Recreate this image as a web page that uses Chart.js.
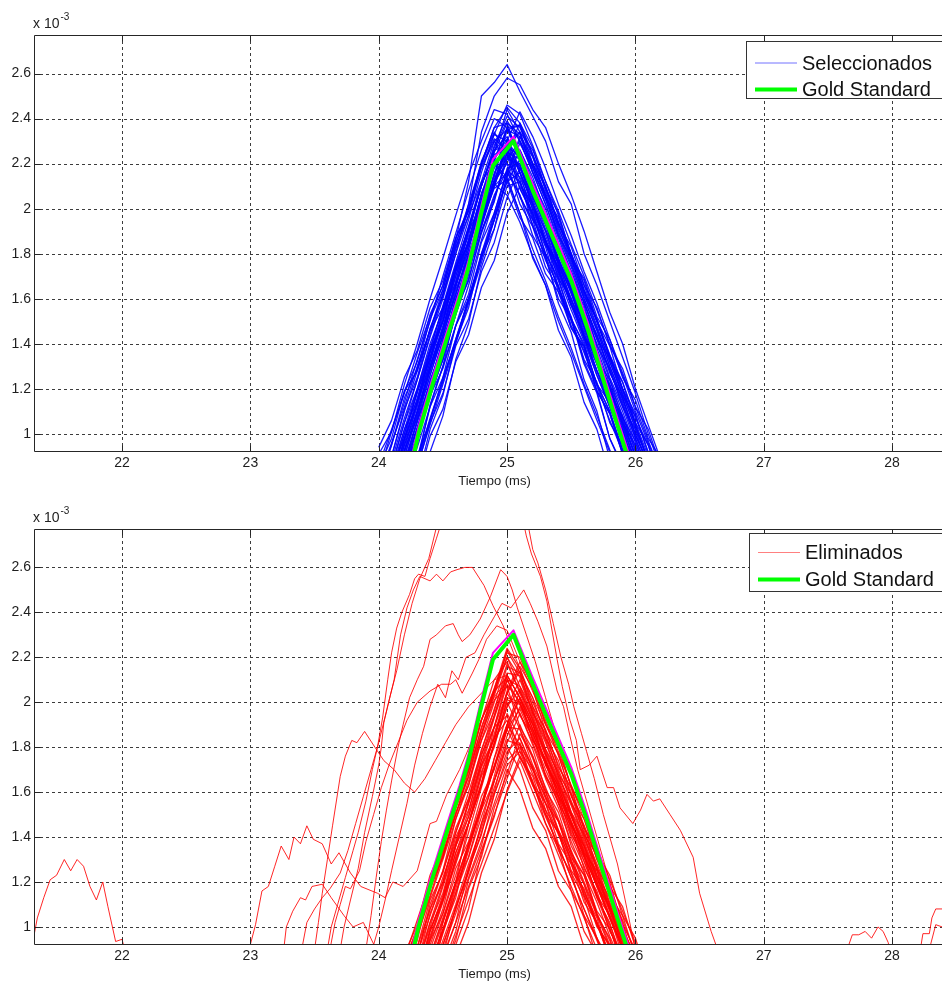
<!DOCTYPE html>
<html>
<head>
<meta charset="utf-8">
<script src="https://cdn.jsdelivr.net/npm/chart.js@4.4.1/dist/chart.umd.min.js"></script>
<style>
  html, body { margin: 0; padding: 0; background: #fff; overflow: hidden; width: 942px; height: 983px; }
  .panel { position: absolute; left: 0; width: 960px; }
  #arriba { top: 0; height: 490px; }
  #abajo { top: 490px; height: 493px; }
</style>
</head>
<body>
<div class="panel" id="arriba"><canvas id="cSel" width="960" height="490"></canvas></div>
<div class="panel" id="abajo"><canvas id="cElim" width="960" height="493"></canvas></div>
<script>
// Ejes comunes (amplitud en unidades de 10^-3)
const ticksTiempo = [22, 23, 24, 25, 26, 27, 28];
const ticksAmplitud = [1, 1.2, 1.4, 1.6, 1.8, 2, 2.2, 2.4, 2.6];
const rangoTiempo = [21.314, 28.49];
const rangoAmplitud = [0.924, 2.771];

// Patron de referencia (Gold Standard) y promedio de la seleccion
const tiempoGold = [24.25, 24.31, 24.42, 24.54, 24.63, 24.70, 24.79, 24.89, 25.05, 25.20, 25.35, 25.50, 25.62, 25.75, 25.87, 25.95];
const goldStandard = [0.85, 1.00, 1.22, 1.44, 1.60, 1.74, 1.96, 2.19, 2.30, 2.08, 1.88, 1.68, 1.48, 1.24, 1.02, 0.88];
const promedio = [0.88, 1.03, 1.25, 1.47, 1.63, 1.77, 1.99, 2.22, 2.32, 2.11, 1.91, 1.71, 1.51, 1.27, 1.05, 0.91];

// Instantes de muestreo de los latidos alineados (ms)
const tiempoPico = [24.0, 24.1, 24.2, 24.3, 24.4, 24.5, 24.6, 24.7, 24.8, 24.9, 25.0, 25.1, 25.2, 25.3, 25.4, 25.5, 25.6, 25.7, 25.8, 25.9, 26.0, 26.1, 26.2];

// Latidos seleccionados
const seleccionados = [
  [0.46,0.63,0.81,0.99,1.17,1.33,1.53,1.71,1.95,2.13,2.27,2.24,2.11,1.94,1.81,1.64,1.51,1.34,1.21,1.04,0.91,0.74,0.60],
  [0.82,1.01,1.22,1.40,1.60,1.78,1.97,2.15,2.30,2.44,2.42,2.30,2.16,2.02,1.85,1.72,1.55,1.42,1.25,1.12,0.96,0.82,0.68],
  [0.40,0.58,0.74,0.90,1.06,1.25,1.41,1.60,1.78,1.97,2.12,2.16,2.02,1.88,1.73,1.58,1.43,1.26,1.12,0.97,0.82,0.68,0.52],
  [0.55,0.72,0.92,1.10,1.30,1.47,1.68,1.86,2.06,2.25,2.38,2.33,2.20,2.05,1.90,1.76,1.60,1.46,1.30,1.15,1.00,0.86,0.70],
  [0.70,0.88,1.07,1.24,1.43,1.60,1.80,1.97,2.12,2.20,2.14,1.98,1.82,1.68,1.52,1.38,1.22,1.08,0.93,0.79,0.64,0.50,0.40],
  [0.50,0.66,0.86,1.03,1.20,1.38,1.55,1.74,1.93,2.10,2.27,2.34,2.26,2.12,1.99,1.84,1.70,1.55,1.40,1.26,1.10,0.96,0.82],
  [0.62,0.80,1.00,1.19,1.37,1.57,1.76,1.95,2.16,2.33,2.46,2.42,2.28,2.12,1.97,1.80,1.66,1.50,1.34,1.20,1.04,0.88,0.74],
  [0.52,0.70,0.86,1.06,1.22,1.42,1.58,1.79,1.96,2.16,2.24,2.19,2.05,1.93,1.76,1.63,1.47,1.33,1.17,1.02,0.88,0.72,0.58],
  [0.38,0.54,0.72,0.88,1.07,1.24,1.42,1.60,1.80,1.98,2.16,2.29,2.18,2.04,1.88,1.74,1.58,1.44,1.28,1.14,0.98,0.84,0.68],
  [0.76,0.95,1.14,1.33,1.50,1.70,1.89,2.08,2.26,2.40,2.36,2.22,2.08,1.93,1.78,1.64,1.48,1.34,1.18,1.04,0.88,0.74,0.60],
  [0.48,0.66,0.84,1.02,1.20,1.36,1.55,1.72,1.90,2.06,2.17,2.12,1.98,1.84,1.70,1.55,1.41,1.26,1.12,0.97,0.84,0.68,0.55],
  [0.44,0.62,0.80,0.98,1.16,1.35,1.54,1.73,1.92,2.12,2.30,2.43,2.32,2.18,2.02,1.88,1.72,1.58,1.42,1.27,1.12,0.97,0.82],
  [0.58,0.76,0.95,1.12,1.32,1.50,1.66,1.86,2.04,2.22,2.31,2.26,2.14,1.98,1.84,1.70,1.54,1.40,1.24,1.10,0.94,0.80,0.65],
  [0.60,0.78,0.96,1.14,1.30,1.48,1.66,1.84,2.00,2.11,2.06,1.94,1.79,1.66,1.50,1.36,1.21,1.06,0.92,0.77,0.62,0.50,0.40],
  [0.50,0.68,0.88,1.06,1.26,1.44,1.62,1.82,2.02,2.21,2.36,2.37,2.24,2.08,1.93,1.80,1.64,1.50,1.35,1.20,1.05,0.90,0.76],
  [0.66,0.84,1.02,1.20,1.38,1.56,1.74,1.92,2.10,2.26,2.28,2.16,2.02,1.86,1.72,1.57,1.42,1.28,1.12,0.98,0.83,0.68,0.54],
  [0.57,0.74,0.93,1.14,1.32,1.52,1.70,1.90,2.10,2.28,2.41,2.36,2.23,2.09,1.94,1.78,1.63,1.48,1.32,1.17,1.03,0.88,0.72],
  [0.35,0.52,0.68,0.86,1.04,1.22,1.40,1.58,1.76,1.95,2.12,2.22,2.10,1.96,1.82,1.67,1.52,1.38,1.22,1.08,0.93,0.78,0.64],
  [0.64,0.82,1.00,1.18,1.36,1.54,1.73,1.92,2.12,2.30,2.35,2.24,2.10,1.96,1.80,1.66,1.50,1.36,1.20,1.06,0.90,0.76,0.62],
  [0.45,0.64,0.82,1.00,1.18,1.37,1.56,1.74,1.92,2.10,2.25,2.22,2.08,1.94,1.78,1.64,1.50,1.35,1.20,1.05,0.90,0.76,0.60],
  [0.68,0.86,1.05,1.24,1.44,1.62,1.82,2.00,2.20,2.36,2.45,2.38,2.24,2.10,1.94,1.80,1.64,1.50,1.34,1.19,1.04,0.88,0.74],
  [0.54,0.72,0.90,1.08,1.26,1.44,1.62,1.80,1.97,2.12,2.20,2.14,2.00,1.86,1.71,1.58,1.43,1.28,1.14,0.99,0.85,0.70,0.56],
  [0.86,1.02,1.18,1.36,1.52,1.66,1.86,2.12,2.50,2.56,2.64,2.52,2.41,2.30,2.12,2.02,1.80,1.66,1.50,1.34,1.18,1.00,0.84],
  [0.80,0.96,1.12,1.30,1.46,1.62,1.80,2.02,2.34,2.50,2.58,2.55,2.44,2.36,2.20,2.06,1.90,1.72,1.54,1.40,1.20,1.04,0.88],
  [0.72,0.90,1.10,1.28,1.46,1.64,1.84,2.02,2.20,2.33,2.30,2.18,2.04,1.90,1.75,1.60,1.46,1.31,1.16,1.01,0.86,0.72,0.58],
  [0.42,0.58,0.76,0.94,1.12,1.30,1.48,1.66,1.86,2.04,2.22,2.30,2.20,2.06,1.92,1.77,1.62,1.47,1.32,1.18,1.02,0.88,0.73],
  [0.56,0.74,0.92,1.10,1.28,1.46,1.62,1.80,1.96,2.10,2.16,2.06,1.93,1.79,1.65,1.50,1.36,1.21,1.06,0.92,0.78,0.63,0.50],
  [0.60,0.78,0.97,1.16,1.34,1.53,1.72,1.91,2.10,2.27,2.39,2.30,2.16,2.02,1.87,1.72,1.58,1.43,1.28,1.13,0.98,0.84,0.70],
  [0.50,0.68,0.87,1.05,1.23,1.41,1.60,1.77,1.95,2.12,2.23,2.18,2.06,1.91,1.77,1.62,1.48,1.33,1.18,1.03,0.88,0.74,0.60],
  [0.53,0.71,0.90,1.09,1.28,1.46,1.65,1.84,2.04,2.22,2.35,2.32,2.18,2.04,1.89,1.75,1.60,1.46,1.30,1.16,1.00,0.86,0.71],
  [0.74,0.90,1.11,1.25,1.47,1.61,1.83,1.97,2.19,2.31,2.26,2.09,1.98,1.80,1.69,1.51,1.40,1.22,1.10,0.93,0.81,0.64,0.52],
  [0.50,0.63,0.85,0.98,1.20,1.33,1.55,1.68,1.90,2.03,2.25,2.38,2.27,2.09,1.98,1.79,1.68,1.50,1.39,1.20,1.09,0.91,0.79],
  [0.38,0.53,0.75,0.89,1.12,1.25,1.48,1.62,1.85,1.98,2.17,2.06,1.88,1.78,1.60,1.51,1.33,1.23,1.05,0.95,0.77,0.66,0.50],
  [0.63,0.85,0.98,1.19,1.33,1.55,1.67,1.90,2.02,2.24,2.27,2.11,2.02,1.85,1.76,1.59,1.50,1.33,1.24,1.07,0.97,0.81,0.71],
  [0.61,0.76,0.98,1.13,1.36,1.50,1.73,1.88,2.11,2.25,2.44,2.34,2.16,2.06,1.88,1.78,1.61,1.51,1.33,1.23,1.05,0.95,0.77],
  [0.33,0.45,0.66,0.78,0.99,1.11,1.32,1.44,1.65,1.77,1.98,2.10,2.01,1.84,1.74,1.57,1.48,1.31,1.22,1.05,0.95,0.78,0.69],
  [0.85,0.98,1.19,1.32,1.53,1.66,1.87,2.00,2.21,2.34,2.24,2.05,1.95,1.77,1.66,1.48,1.38,1.19,1.09,0.91,0.81,0.62,0.52],
  [0.24,0.40,0.63,0.79,1.02,1.17,1.41,1.56,1.80,1.95,2.18,2.20,1.99,1.86,1.65,1.52,1.32,1.19,0.98,0.85,0.64,0.52,0.31],
  [0.47,0.61,0.84,0.98,1.20,1.35,1.57,1.72,1.94,2.09,2.13,1.98,1.78,1.66,1.46,1.34,1.14,1.02,0.82,0.70,0.50,0.38,0.20],
  [0.58,0.71,0.93,1.07,1.29,1.43,1.64,1.78,2.00,2.14,2.35,2.37,2.20,2.10,1.93,1.83,1.66,1.56,1.39,1.29,1.12,1.02,0.85],
  [0.91,1.01,1.19,1.28,1.46,1.56,1.74,1.84,2.02,2.12,2.27,2.13,1.92,1.79,1.58,1.45,1.24,1.10,0.89,0.76,0.55,0.42,0.23],
  [0.10,0.26,0.50,0.67,0.92,1.08,1.33,1.49,1.74,1.91,2.15,2.32,2.23,2.05,1.96,1.78,1.69,1.52,1.42,1.25,1.15,0.98,0.89],
  [0.67,0.81,1.02,1.15,1.37,1.50,1.72,1.85,2.07,2.20,2.12,1.96,1.87,1.71,1.63,1.47,1.39,1.22,1.14,0.98,0.90,0.74,0.65],
  [0.28,0.45,0.70,0.87,1.13,1.30,1.55,1.71,1.98,2.15,2.36,2.25,2.05,1.94,1.75,1.63,1.44,1.33,1.13,1.02,0.83,0.71,0.52],
  [0.56,0.67,0.87,0.98,1.17,1.29,1.48,1.60,1.79,1.91,2.10,2.12,1.95,1.86,1.69,1.60,1.43,1.34,1.17,1.08,0.92,0.83,0.66],
  [0.52,0.66,0.88,1.02,1.24,1.38,1.60,1.74,1.96,2.10,2.29,2.16,1.96,1.83,1.63,1.51,1.31,1.18,0.98,0.86,0.66,0.53,0.33],
  [0.81,0.95,1.16,1.29,1.51,1.64,1.85,1.99,2.20,2.36,2.38,2.21,2.12,1.94,1.84,1.67,1.57,1.39,1.29,1.12,1.02,0.84,0.75],
  [0.39,0.51,0.72,0.85,1.05,1.18,1.39,1.51,1.72,1.85,2.05,2.18,2.09,1.93,1.84,1.67,1.59,1.42,1.34,1.17,1.08,0.92,0.83],
  [0.94,1.06,1.25,1.37,1.56,1.68,1.87,1.99,2.18,2.30,2.20,2.02,1.92,1.74,1.65,1.47,1.37,1.19,1.09,0.91,0.81,0.63,0.53],
  [0.45,0.62,0.81,0.97,1.17,1.33,1.53,1.69,1.89,2.05,2.22,2.20,2.02,1.90,1.72,1.60,1.43,1.31,1.13,1.01,0.84,0.72,0.55],
  [0.60,0.75,0.95,1.10,1.30,1.46,1.66,1.82,2.02,2.18,2.30,2.22,2.06,1.94,1.77,1.65,1.48,1.36,1.19,1.07,0.90,0.78,0.61],
  [0.34,0.52,0.70,0.87,1.06,1.23,1.42,1.59,1.78,1.95,2.14,2.26,2.12,2.00,1.83,1.72,1.55,1.44,1.27,1.16,0.99,0.88,0.71],
  [0.70,0.85,1.05,1.20,1.40,1.55,1.75,1.91,2.10,2.26,2.32,2.16,2.03,1.86,1.74,1.57,1.45,1.28,1.16,0.99,0.87,0.70,0.58],
  [0.50,0.67,0.85,1.02,1.21,1.38,1.57,1.74,1.93,2.11,2.29,2.34,2.19,2.07,1.91,1.79,1.63,1.51,1.35,1.23,1.07,0.95,0.79],
  [0.62,0.78,0.98,1.14,1.34,1.50,1.70,1.86,2.06,2.21,2.25,2.09,1.97,1.80,1.68,1.51,1.39,1.22,1.10,0.93,0.81,0.64,0.52]
];

// Latidos eliminados agrupados alrededor del pico
const eliminados = [
  [0.48,0.66,0.82,0.99,1.17,1.33,1.50,1.69,1.86,2.05,2.20,2.11,1.96,1.83,1.67,1.55,1.40,1.27,1.11,0.98,0.84,0.71,0.56],
  [0.30,0.44,0.61,0.78,0.95,1.12,1.30,1.46,1.63,1.81,1.98,2.10,1.95,1.82,1.67,1.54,1.39,1.26,1.10,0.96,0.82,0.68,0.54],
  [0.15,0.30,0.46,0.63,0.80,0.97,1.15,1.31,1.49,1.65,1.82,1.95,1.81,1.66,1.53,1.38,1.24,1.11,0.96,0.82,0.68,0.54,0.40],
  [0.44,0.61,0.78,0.96,1.13,1.30,1.48,1.65,1.83,2.00,2.17,2.05,1.92,1.77,1.64,1.50,1.36,1.22,1.08,0.94,0.80,0.66,0.52],
  [0.12,0.26,0.42,0.58,0.74,0.90,1.06,1.22,1.38,1.55,1.72,1.78,1.64,1.50,1.36,1.22,1.08,0.94,0.80,0.66,0.52,0.38,0.24],
  [0.28,0.44,0.61,0.78,0.94,1.11,1.28,1.46,1.64,1.86,2.04,1.95,1.82,1.68,1.55,1.40,1.27,1.13,0.99,0.85,0.71,0.57,0.43],
  [0.50,0.67,0.84,1.00,1.18,1.35,1.53,1.70,1.88,2.06,2.22,2.20,2.06,1.92,1.78,1.63,1.50,1.35,1.21,1.07,0.93,0.79,0.65],
  [0.14,0.28,0.44,0.60,0.76,0.92,1.08,1.25,1.42,1.59,1.76,1.90,1.76,1.62,1.48,1.34,1.20,1.06,0.92,0.78,0.64,0.50,0.36],
  [0.24,0.40,0.57,0.73,0.90,1.06,1.23,1.42,1.62,1.82,2.00,1.88,1.75,1.60,1.47,1.33,1.19,1.05,0.91,0.77,0.63,0.49,0.35],
  [0.38,0.54,0.71,0.88,1.05,1.22,1.38,1.55,1.72,1.89,2.04,2.14,2.00,1.87,1.72,1.59,1.44,1.31,1.16,1.03,0.88,0.75,0.60],
  [0.16,0.30,0.45,0.62,0.77,0.94,1.10,1.28,1.44,1.62,1.78,1.84,1.70,1.58,1.42,1.30,1.14,1.02,0.86,0.74,0.58,0.46,0.30],
  [0.34,0.51,0.68,0.84,1.02,1.19,1.37,1.56,1.76,1.94,2.12,2.02,1.88,1.74,1.60,1.46,1.32,1.18,1.04,0.90,0.76,0.62,0.48],
  [0.22,0.38,0.54,0.70,0.87,1.04,1.20,1.37,1.54,1.71,1.88,2.02,1.88,1.74,1.60,1.46,1.32,1.18,1.04,0.90,0.76,0.62,0.48],
  [0.52,0.68,0.86,1.03,1.20,1.38,1.56,1.74,1.92,2.10,2.18,2.04,1.90,1.76,1.62,1.47,1.33,1.19,1.05,0.91,0.77,0.63,0.49],
  [0.10,0.22,0.36,0.50,0.65,0.80,0.96,1.12,1.28,1.44,1.60,1.74,1.60,1.46,1.32,1.18,1.04,0.90,0.76,0.62,0.48,0.34,0.20],
  [0.30,0.46,0.62,0.79,0.96,1.12,1.29,1.46,1.64,1.82,1.98,2.06,1.93,1.78,1.65,1.50,1.37,1.22,1.09,0.94,0.81,0.66,0.52],
  [0.20,0.36,0.52,0.68,0.83,0.99,1.15,1.34,1.54,1.75,1.95,1.84,1.71,1.57,1.43,1.29,1.16,1.02,0.88,0.74,0.60,0.46,0.32],
  [0.40,0.57,0.74,0.91,1.08,1.25,1.42,1.60,1.78,1.97,2.13,2.12,1.98,1.84,1.70,1.56,1.42,1.28,1.14,1.00,0.86,0.72,0.58],
  [0.16,0.31,0.46,0.61,0.76,0.92,1.08,1.26,1.46,1.67,1.88,1.76,1.63,1.49,1.36,1.22,1.08,0.95,0.81,0.67,0.53,0.40,0.26],
  [0.24,0.39,0.55,0.71,0.87,1.03,1.20,1.37,1.55,1.72,1.90,2.05,1.92,1.77,1.64,1.49,1.36,1.21,1.08,0.93,0.80,0.65,0.52],
  [0.46,0.63,0.80,0.97,1.14,1.32,1.50,1.67,1.85,2.03,2.20,2.07,1.94,1.79,1.66,1.51,1.38,1.23,1.10,0.95,0.82,0.67,0.54],
  [0.12,0.26,0.40,0.55,0.70,0.86,1.02,1.18,1.34,1.50,1.66,1.82,1.68,1.55,1.41,1.28,1.14,1.01,0.87,0.74,0.60,0.47,0.33],
  [0.32,0.49,0.66,0.83,1.00,1.18,1.36,1.55,1.74,1.93,2.10,1.99,1.86,1.74,1.62,1.47,1.34,1.20,1.07,0.92,0.79,0.64,0.50],
  [0.22,0.37,0.53,0.69,0.85,1.02,1.19,1.36,1.53,1.71,1.88,1.97,1.84,1.70,1.57,1.42,1.29,1.14,1.01,0.86,0.73,0.58,0.45],
  [0.47,0.59,0.79,0.91,1.12,1.24,1.44,1.57,1.77,1.89,2.10,2.07,1.97,1.79,1.69,1.51,1.41,1.23,1.13,0.95,0.85,0.67,0.57],
  [0.02,0.21,0.37,0.60,0.75,0.98,1.13,1.37,1.52,1.75,1.90,1.81,1.64,1.55,1.37,1.28,1.11,1.02,0.85,0.76,0.59,0.50,0.32],
  [0.30,0.42,0.62,0.74,0.94,1.06,1.26,1.38,1.58,1.70,1.90,2.02,1.91,1.72,1.61,1.43,1.32,1.13,1.02,0.83,0.72,0.53,0.43],
  [0.44,0.58,0.80,0.94,1.17,1.31,1.53,1.67,1.89,2.04,2.23,2.13,1.95,1.86,1.68,1.59,1.41,1.32,1.14,1.05,0.87,0.78,0.60],
  [0.00,0.05,0.13,0.28,0.50,0.65,0.87,1.02,1.24,1.39,1.61,1.76,1.65,1.46,1.35,1.16,1.05,0.86,0.75,0.56,0.45,0.26,0.15],
  [0.34,0.49,0.72,0.87,1.10,1.25,1.48,1.63,1.86,2.01,2.07,1.89,1.79,1.61,1.51,1.33,1.23,1.05,0.95,0.77,0.67,0.49,0.39],
  [0.00,0.06,0.22,0.45,0.60,0.83,0.98,1.21,1.36,1.59,1.74,1.80,1.63,1.52,1.34,1.24,1.05,0.95,0.77,0.66,0.48,0.38,0.19],
  [0.30,0.43,0.64,0.77,0.99,1.12,1.33,1.46,1.67,1.80,2.01,1.99,1.90,1.72,1.63,1.45,1.36,1.18,1.09,0.91,0.82,0.64,0.55],
  [0.34,0.47,0.68,0.81,1.02,1.15,1.36,1.49,1.71,1.84,2.05,2.18,2.08,1.90,1.80,1.62,1.51,1.33,1.23,1.05,0.95,0.77,0.67],
  [0.16,0.31,0.54,0.69,0.92,1.08,1.31,1.46,1.69,1.84,1.92,1.75,1.67,1.50,1.42,1.25,1.17,1.00,0.92,0.75,0.67,0.50,0.42],
  [0.32,0.46,0.69,0.83,1.06,1.20,1.42,1.57,1.79,1.94,2.12,2.02,1.83,1.73,1.55,1.45,1.26,1.16,0.98,0.88,0.69,0.59,0.41],
  [0.00,0.09,0.24,0.48,0.63,0.87,1.02,1.26,1.41,1.65,1.80,1.70,1.53,1.43,1.25,1.16,0.98,0.88,0.71,0.61,0.43,0.34,0.16],
  [0.19,0.31,0.52,0.65,0.85,0.98,1.19,1.31,1.52,1.65,1.85,1.98,1.87,1.67,1.56,1.36,1.25,1.06,0.94,0.75,0.64,0.44,0.33],
  [0.53,0.65,0.86,0.98,1.18,1.31,1.51,1.63,1.83,1.96,2.16,2.13,2.02,1.84,1.74,1.55,1.45,1.26,1.16,0.98,0.88,0.69,0.59],
  [0.00,0.15,0.36,0.50,0.73,0.87,1.09,1.24,1.46,1.60,1.83,1.81,1.71,1.52,1.42,1.24,1.13,0.95,0.85,0.67,0.56,0.38,0.28],
  [0.22,0.37,0.60,0.75,0.98,1.13,1.36,1.51,1.74,1.89,2.08,2.00,1.83,1.75,1.58,1.50,1.33,1.25,1.08,1.00,0.83,0.75,0.58],
  [0.00,0.00,0.08,0.26,0.51,0.67,0.92,1.08,1.33,1.49,1.70,1.61,1.44,1.35,1.18,1.09,0.91,0.82,0.65,0.56,0.39,0.30,0.13],
  [0.45,0.57,0.77,0.88,1.08,1.20,1.40,1.52,1.72,1.84,2.04,2.16,2.06,1.87,1.77,1.58,1.48,1.30,1.19,1.01,0.90,0.72,0.62],
  [0.00,0.15,0.33,0.58,0.76,1.02,1.20,1.46,1.63,1.89,1.94,1.78,1.70,1.55,1.47,1.31,1.23,1.07,0.99,0.84,0.76,0.60,0.52],
  [0.26,0.43,0.61,0.79,0.98,1.14,1.33,1.49,1.68,1.84,2.02,2.00,1.86,1.73,1.58,1.46,1.31,1.19,1.04,0.92,0.77,0.65,0.50],
  [0.48,0.62,0.84,0.98,1.20,1.34,1.56,1.70,1.92,2.06,2.24,2.15,1.98,1.88,1.71,1.62,1.44,1.35,1.18,1.09,0.91,0.82,0.65],
  [0.00,0.07,0.21,0.44,0.58,0.80,0.94,1.17,1.31,1.53,1.68,1.86,1.76,1.58,1.47,1.29,1.19,1.01,0.91,0.72,0.62,0.44,0.34],
  [0.54,0.67,0.88,1.01,1.23,1.36,1.57,1.71,1.92,2.05,2.11,1.94,1.85,1.67,1.58,1.41,1.31,1.14,1.05,0.87,0.78,0.61,0.51],
  [0.10,0.28,0.45,0.63,0.81,0.99,1.17,1.35,1.53,1.71,1.89,1.88,1.72,1.60,1.43,1.32,1.15,1.04,0.86,0.76,0.58,0.48,0.30]
];

// Latidos eliminados fuera del grupo: pares [tiempo (ms), amplitud]
const atipicoA = [[21.30,0.92],[21.34,1.04],[21.39,1.13],[21.44,1.21],[21.49,1.23],[21.55,1.30],[21.60,1.25],[21.65,1.30],[21.70,1.27],[21.75,1.18],[21.80,1.12],[21.85,1.20],[21.89,1.09],[21.95,0.935],[22.00,0.945],[22.02,0.90]];
const atipicoB = [[22.99,0.90],[23.04,1.01],[23.09,1.16],[23.14,1.18],[23.19,1.27],[23.24,1.36],[23.30,1.30],[23.34,1.40],[23.39,1.37],[23.44,1.45],[23.49,1.39],[23.56,1.37],[23.63,1.28],[23.69,1.33],[23.78,1.24],[23.86,1.18],[23.99,1.15],[24.05,1.13],[24.11,1.20],[24.19,1.18],[24.30,1.25],[24.40,1.46],[24.45,1.47],[24.53,1.59],[24.63,1.70],[24.72,1.82],[24.82,1.95],[24.92,2.04],[25.02,2.10],[25.12,2.00],[25.25,1.84],[25.40,1.63],[25.55,1.42],[25.70,1.20],[25.85,0.98],[25.90,0.90]];
const atipicoD = [[23.26,0.90],[23.28,1.00],[23.33,1.07],[23.39,1.13],[23.43,1.12],[23.48,1.18],[23.56,1.19],[23.63,1.13],[23.68,1.09],[23.73,1.05],[23.80,1.00],[23.88,1.02],[23.93,0.96],[23.98,0.90]];
const atipicoE = [[23.60,0.90],[23.63,1.00],[23.68,1.10],[23.74,1.22],[23.80,1.34],[23.84,1.42],[23.90,1.56],[23.95,1.70],[23.99,1.80],[24.03,1.93],[24.07,2.10],[24.10,2.22],[24.14,2.33],[24.18,2.40],[24.24,2.48],[24.28,2.55],[24.31,2.57],[24.36,2.56],[24.40,2.64],[24.45,2.73],[24.50,2.82],[24.80,3.10],[25.12,2.82],[25.15,2.74],[25.19,2.66],[25.26,2.56],[25.31,2.45],[25.39,2.19],[25.43,2.07],[25.49,1.92],[25.54,1.83],[25.57,1.70],[25.64,1.72],[25.70,1.76],[25.78,1.62],[25.83,1.62],[25.88,1.53],[25.98,1.46],[26.04,1.52],[26.09,1.59],[26.14,1.56],[26.19,1.57],[26.27,1.50],[26.35,1.43],[26.45,1.31],[26.50,1.15],[26.59,0.98],[26.64,0.90]];
const atipicoF = [[23.70,0.90],[23.73,1.00],[23.78,1.12],[23.84,1.26],[23.89,1.42],[23.95,1.58],[24.00,1.72],[24.02,1.80],[24.04,1.91],[24.09,2.03],[24.14,2.14],[24.20,2.30],[24.26,2.44],[24.32,2.55],[24.39,2.64],[24.45,2.78],[24.70,3.20],[25.16,2.80],[25.20,2.68],[25.24,2.62],[25.30,2.50],[25.36,2.35],[25.42,2.20],[25.48,2.08],[25.52,1.98],[25.58,1.86],[25.62,1.78],[25.68,1.66],[25.75,1.50],[25.80,1.40],[25.86,1.28],[25.92,1.12],[25.97,0.98],[26.00,0.90]];
const atipicoG = [[23.40,0.90],[23.44,1.02],[23.50,1.08],[23.56,1.13],[23.62,1.17],[23.70,1.24],[23.76,1.34],[23.82,1.46],[23.88,1.58],[23.94,1.70],[24.00,1.82],[24.06,1.96],[24.12,2.10],[24.17,2.30],[24.22,2.42],[24.27,2.50],[24.32,2.56],[24.40,2.54],[24.45,2.57],[24.50,2.54],[24.56,2.58],[24.61,2.59],[24.67,2.60],[24.73,2.60],[24.82,2.52],[24.89,2.43],[24.97,2.34],[25.05,2.22],[25.15,2.08],[25.30,1.90],[25.45,1.70],[25.60,1.48],[25.75,1.25],[25.90,1.02],[25.96,0.90]];
const atipicoH = [[23.90,0.90],[23.94,1.05],[23.98,1.22],[24.02,1.38],[24.06,1.52],[24.10,1.65],[24.15,1.80],[24.19,1.90],[24.24,2.02],[24.30,2.10],[24.35,2.16],[24.40,2.28],[24.45,2.30],[24.52,2.34],[24.58,2.35],[24.62,2.30],[24.65,2.27],[24.71,2.30],[24.79,2.37],[24.87,2.47],[24.95,2.59],[25.00,2.56],[25.04,2.50],[25.08,2.42],[25.15,2.30],[25.22,2.18],[25.30,2.02],[25.38,1.86],[25.46,1.70],[25.55,1.52],[25.65,1.34],[25.75,1.16],[25.85,0.98],[25.90,0.90]];
const atipicoI = [[23.95,0.90],[24.00,1.00],[24.05,1.12],[24.10,1.25],[24.16,1.40],[24.22,1.55],[24.28,1.72],[24.34,1.86],[24.40,1.98],[24.46,2.08],[24.52,2.02],[24.57,2.14],[24.62,2.10],[24.68,2.20],[24.75,2.22],[24.82,2.30],[24.90,2.38],[24.96,2.44],[25.03,2.42],[25.08,2.46],[25.13,2.50],[25.18,2.44],[25.24,2.36],[25.31,2.25],[25.39,2.05],[25.44,1.98],[25.49,1.85],[25.55,1.70],[25.62,1.56],[25.70,1.40],[25.78,1.24],[25.86,1.08],[25.94,0.92],[25.96,0.90]];
const atipicoJ = [[23.62,0.90],[23.66,1.02],[23.70,1.10],[23.74,1.18],[23.78,1.17],[23.85,1.25],[23.90,1.38],[23.96,1.50],[24.02,1.62],[24.08,1.72],[24.15,1.82],[24.22,1.92],[24.30,2.00],[24.40,2.05],[24.49,2.08],[24.56,2.08],[24.60,2.10],[24.65,2.04],[24.73,2.13],[24.78,2.19],[24.84,2.28],[24.92,2.34],[25.00,2.32],[25.10,2.18],[25.22,2.02],[25.35,1.84],[25.50,1.60],[25.65,1.38],[25.80,1.14],[25.92,0.95],[25.95,0.90]];
const atipicoK = [[23.50,0.90],[23.53,1.02],[23.56,1.15],[23.60,1.30],[23.64,1.45],[23.70,1.67],[23.74,1.76],[23.79,1.83],[23.83,1.82],[23.89,1.87],[23.97,1.80],[24.04,1.74],[24.12,1.70],[24.20,1.64],[24.28,1.60],[24.36,1.66],[24.44,1.74],[24.52,1.82],[24.60,1.90],[24.70,1.98],[24.80,2.04],[24.90,2.10],[25.00,2.12],[25.10,2.02],[25.20,1.88],[25.35,1.66],[25.50,1.44],[25.65,1.22],[25.80,1.00],[25.85,0.90]];
const atipicoM = [[27.65,0.90],[27.69,0.965],[27.74,0.965],[27.79,0.98],[27.84,0.95],[27.89,1.00],[27.93,0.98],[27.97,0.93],[27.98,0.90]];
const atipicoN1 = [[28.22,0.90],[28.24,0.97],[28.29,0.97],[28.31,1.04],[28.34,1.08],[28.39,1.08],[28.45,1.10]];
const atipicoN2 = [[28.29,0.90],[28.34,1.01],[28.39,1.00],[28.45,1.02]];
const atipicos = [atipicoA, atipicoB, atipicoD, atipicoE, atipicoF, atipicoG, atipicoH, atipicoI, atipicoJ, atipicoK, atipicoM, atipicoN1, atipicoN2];

const FUENTE = '"Liberation Sans", Arial, Helvetica, sans-serif';
Chart.defaults.font.family = FUENTE;

function pares(ts, vs) { return vs.map((v, i) => ({ x: ts[i], y: v })); }

// Marco, rejilla punteada, marcas interiores, leyenda y factor de escala
const marcoEjes = {
  id: 'marcoEjes',
  beforeDatasetsDraw(chart) {
    const { ctx, chartArea: a, scales: { x, y } } = chart;
    ctx.save();
    ctx.strokeStyle = '#3c3c3c';
    ctx.lineWidth = 1;
    ctx.setLineDash([3, 3]);
    ctx.beginPath();
    ticksTiempo.forEach(v => { const px = Math.round(x.getPixelForValue(v)) + 0.5; ctx.moveTo(px, a.top); ctx.lineTo(px, a.bottom); });
    ticksAmplitud.forEach(v => { const py = Math.round(y.getPixelForValue(v)) + 0.5; ctx.moveTo(a.left, py); ctx.lineTo(a.right, py); });
    ctx.stroke();
    ctx.restore();
  },
  afterDatasetsDraw(chart) {
    const { ctx, chartArea: a, scales: { x, y } } = chart;
    const L = Math.round(a.left) + 0.5, T = Math.round(a.top) + 0.5, B = Math.round(a.bottom) + 0.5, R = Math.round(a.right) + 0.5;
    ctx.save();
    ctx.strokeStyle = '#262626';
    ctx.lineWidth = 1;
    ctx.setLineDash([]);
    ctx.beginPath();
    ctx.rect(L, T, R - L, B - T);
    const m = 6;
    ticksTiempo.forEach(v => { const px = Math.round(x.getPixelForValue(v)) + 0.5; ctx.moveTo(px, T); ctx.lineTo(px, T + m); ctx.moveTo(px, B); ctx.lineTo(px, B - m); });
    ticksAmplitud.forEach(v => { const py = Math.round(y.getPixelForValue(v)) + 0.5; ctx.moveTo(L, py); ctx.lineTo(L + m, py); ctx.moveTo(R, py); ctx.lineTo(R - m, py); });
    ctx.stroke();
    ctx.restore();
  },
  afterDraw(chart) {
    const { ctx, chartArea: a } = chart;
    const o = chart.options.plugins.marcoEjes;
    ctx.save();
    // factor de escala del eje vertical
    ctx.fillStyle = '#222';
    ctx.textBaseline = 'alphabetic';
    ctx.font = '14px ' + FUENTE;
    ctx.fillText('x 10', 33, a.top - 7);
    const w = ctx.measureText('x 10').width;
    ctx.font = '10px ' + FUENTE;
    ctx.fillText('-3', 33 + w + 1, a.top - 15);
    // leyenda
    const top = a.top + o.leyendaTop;
    ctx.fillStyle = '#fff';
    ctx.fillRect(o.leyendaX, top, 230, o.leyendaAlto);
    ctx.strokeStyle = '#333';
    ctx.lineWidth = 1;
    ctx.strokeRect(o.leyendaX + 0.5, top + 0.5, 230, o.leyendaAlto);
    ctx.font = '20px ' + FUENTE;
    ctx.textBaseline = 'middle';
    o.entradas.forEach((e, i) => {
      const yy = top + o.filas[i];
      ctx.strokeStyle = e.color;
      ctx.lineWidth = e.ancho;
      ctx.beginPath();
      ctx.moveTo(o.leyendaX + 9, yy);
      ctx.lineTo(o.leyendaX + 51, yy);
      ctx.stroke();
      ctx.fillStyle = '#111';
      ctx.fillText(e.texto, o.leyendaX + 56, yy + 1);
    });
    ctx.restore();
  }
};

function crearPanel(idCanvas, trazas, extras, color, etiqueta, margenSup, leyenda) {
  const datasets = [
    { label: 'Gold Standard', data: pares(tiempoGold, goldStandard), borderColor: '#00ff00', borderWidth: 4, order: 0 },
    { label: 'Promedio', data: pares(tiempoGold, promedio), borderColor: '#ff00ff', borderWidth: 2, order: 1 }
  ];
  trazas.forEach(v => datasets.push({ label: etiqueta, data: pares(tiempoPico, v), borderColor: color, borderWidth: 1.3, order: 2 }));
  extras.forEach(p => datasets.push({ label: etiqueta, data: p.map(([t, v]) => ({ x: t, y: v })), borderColor: color, borderWidth: 1, order: 2 }));

  const ejeX = {
    type: 'linear', min: rangoTiempo[0], max: rangoTiempo[1],
    grid: { display: false, drawTicks: false }, border: { display: false },
    afterBuildTicks: s => { s.ticks = ticksTiempo.map(v => ({ value: v })); },
    afterFit: s => { s.height = 39; },
    ticks: { padding: 4, color: '#1e1e1e', font: { size: 14 }, maxRotation: 0, autoSkip: false, callback: v => String(v) },
    title: { display: true, text: 'Tiempo (ms)', color: '#1e1e1e', font: { size: 13 }, padding: { top: 0, bottom: 1 } }
  };
  const ejeY = {
    type: 'linear', min: rangoAmplitud[0], max: rangoAmplitud[1],
    grid: { display: false, drawTicks: false }, border: { display: false },
    afterBuildTicks: s => { s.ticks = ticksAmplitud.map(v => ({ value: v })); },
    afterFit: s => { s.width = 34; },
    ticks: { padding: 3, color: '#1e1e1e', font: { size: 14 }, autoSkip: false, callback: v => String(v) }
  };

  return new Chart(document.getElementById(idCanvas), {
    type: 'line',
    data: { datasets },
    options: {
      responsive: false, animation: false, events: [],
      layout: { padding: { top: margenSup, right: 5, left: 0, bottom: 0 } },
      elements: { point: { radius: 0 }, line: { tension: 0, fill: false, borderJoinStyle: 'round' } },
      datasets: { line: { clip: 0 } },
      scales: { x: ejeX, y: ejeY },
      plugins: {
        legend: { display: false }, tooltip: { enabled: false },
        marcoEjes: Object.assign({
          entradas: [
            { texto: etiqueta, color: leyenda.colorMuestra, ancho: 1 },
            { texto: 'Gold Standard', color: '#00ff00', ancho: 4 }
          ]
        }, leyenda)
      }
    },
    plugins: [marcoEjes]
  });
}

crearPanel('cSel', seleccionados, [], 'rgba(0,0,255,0.9)', 'Seleccionados', 35,
  { leyendaX: 746, leyendaTop: 6, leyendaAlto: 57, filas: [22, 48.5], colorMuestra: '#7373ff' });
crearPanel('cElim', eliminados, atipicos, 'rgba(255,0,0,0.85)', 'Eliminados', 39,
  { leyendaX: 749, leyendaTop: 4, leyendaAlto: 58, filas: [19.5, 46.5], colorMuestra: '#ff8080' });
</script>
</body>
</html>
